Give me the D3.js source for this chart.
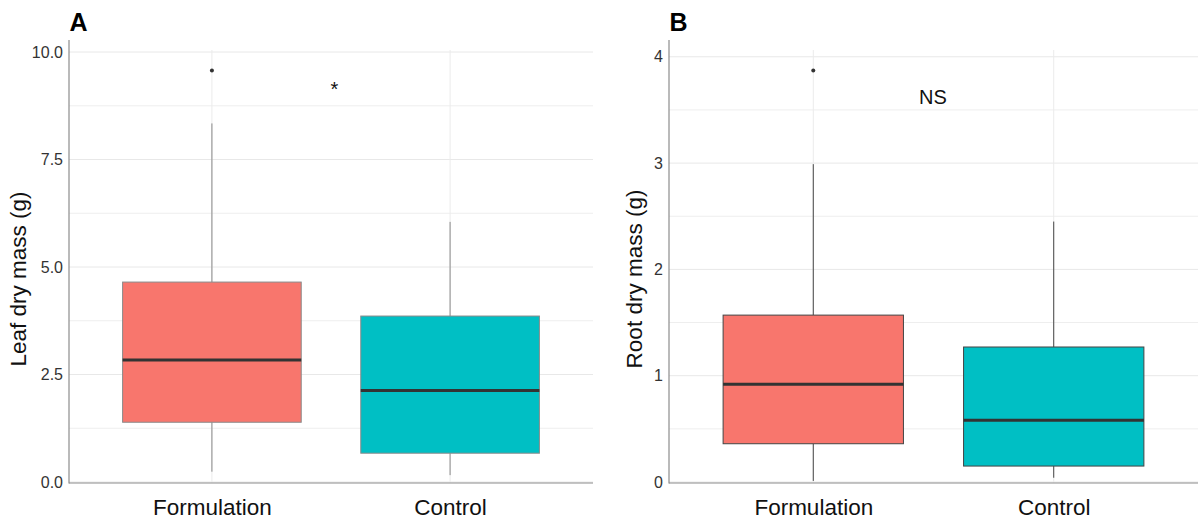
<!DOCTYPE html>
<html>
<head>
<meta charset="utf-8">
<script src="https://cdn.jsdelivr.net/npm/d3@7"></script>
<style>
  html, body { margin: 0; padding: 0; background: #fff; }
  svg { display: block; font-family: "Liberation Sans", Arial, sans-serif; }
</style>
</head>
<body>
<svg id="chart" width="1203" height="521"></svg>
<script>
// categories on the x axis
const categories = ["Formulation", "Control"];
const fillColors = ["#F8766D", "#00BFC4"];

// five-number summaries: [lower whisker, q1, median, q3, upper whisker]
const leafBoxes = [
    [0.24, 1.39, 2.84, 4.65, 8.34],
    [0.16, 0.67, 2.13, 3.86, 6.05]
];
const leafOutliers = [[9.57], []];
const leafTicks = [0, 2.5, 5, 7.5, 10];
const leafMinor = [1.25, 3.75, 6.25, 8.75];

const rootBoxes = [
    [0.01, 0.36, 0.92, 1.57, 2.99],
    [0.04, 0.15, 0.58, 1.27, 2.45]
];
const rootOutliers = [[3.87], []];
const rootTicks = [0, 1, 2, 3, 4];
const rootMinor = [0.5, 1.5, 2.5, 3.5];

const svg = d3.select('#chart');

function drawPanel(opt) {
    const g = svg.append('g');

    const x = d3.scalePoint()
        .domain(categories)
        .range([opt.left, opt.right])
        .padding(0.6);
    const y = d3.scaleLinear()
        .domain(opt.yDomain)
        .range([483, 40]);
    const boxW = x.step() * 0.75;

    // grid
    g.append('g').selectAll('line')
        .data(opt.minor)
        .join('line')
        .attr('x1', opt.left).attr('x2', opt.right)
        .attr('y1', d => y(d)).attr('y2', d => y(d))
        .style('stroke', '#eeeeee')
        .style('stroke-width', 1);
    g.append('g').selectAll('line')
        .data(opt.ticks)
        .join('line')
        .attr('x1', opt.left).attr('x2', opt.right)
        .attr('y1', d => y(d)).attr('y2', d => y(d))
        .style('stroke', '#e8e8e8')
        .style('stroke-width', 1);
    g.append('g').selectAll('line')
        .data(categories)
        .join('line')
        .attr('x1', d => x(d)).attr('x2', d => x(d))
        .attr('y1', 50).attr('y2', 483)
        .style('stroke', '#ebebeb')
        .style('stroke-width', 1);

    // y axis
    const yAxis = d3.axisLeft(y)
        .tickValues(opt.ticks)
        .tickFormat(opt.fmt)
        .tickSize(0)
        .tickPadding(6);
    const ya = g.append('g')
        .attr('transform', `translate(${opt.left},0)`)
        .call(yAxis);
    ya.select('.domain').remove();
    ya.selectAll('text')
        .style('font-size', '16px')
        .style('fill', '#333');

    // x axis
    const xAxis = d3.axisBottom(x).tickSize(0).tickPadding(16);
    const xa = g.append('g')
        .attr('transform', 'translate(0,483)')
        .call(xAxis);
    xa.select('.domain').remove();
    xa.selectAll('text')
        .style('font-size', '22.5px')
        .style('fill', '#111');

    // axis lines
    g.append('line')
        .attr('x1', opt.left).attr('x2', opt.left)
        .attr('y1', 40).attr('y2', 483.5)
        .style('stroke', '#8c8c8c').style('stroke-width', 1.2);
    g.append('line')
        .attr('x1', opt.left).attr('x2', opt.right)
        .attr('y1', 483).attr('y2', 483)
        .style('stroke', '#8c8c8c').style('stroke-width', 1.2);

    // boxes
    const box = g.append('g').selectAll('g')
        .data(opt.boxes)
        .join('g');

    box.append('line')
        .attr('x1', (d, i) => x(categories[i])).attr('x2', (d, i) => x(categories[i]))
        .attr('y1', d => y(d[3])).attr('y2', d => y(d[4]))
        .style('stroke', opt.lineColor).style('stroke-width', 1);
    box.append('line')
        .attr('x1', (d, i) => x(categories[i])).attr('x2', (d, i) => x(categories[i]))
        .attr('y1', d => y(d[1])).attr('y2', d => y(d[0]))
        .style('stroke', opt.lineColor).style('stroke-width', 1);
    box.append('rect')
        .attr('x', (d, i) => x(categories[i]) - boxW / 2)
        .attr('width', boxW)
        .attr('y', d => y(d[3]))
        .attr('height', d => y(d[1]) - y(d[3]))
        .style('fill', (d, i) => fillColors[i])
        .style('stroke', opt.lineColor)
        .style('stroke-width', 1);
    box.append('line')
        .attr('x1', (d, i) => x(categories[i]) - boxW / 2)
        .attr('x2', (d, i) => x(categories[i]) + boxW / 2)
        .attr('y1', d => y(d[2])).attr('y2', d => y(d[2]))
        .style('stroke', '#333').style('stroke-width', 3);

    // outliers
    opt.outliers.forEach((pts, i) => {
        g.append('g').selectAll('circle')
            .data(pts)
            .join('circle')
            .attr('cx', x(categories[i]))
            .attr('cy', d => y(d))
            .attr('r', 2)
            .style('fill', '#333');
    });

    // significance label between the groups
    g.append('text')
        .attr('x', (x(categories[0]) + x(categories[1])) / 2 + opt.sigDx)
        .attr('y', y(opt.sigY))
        .attr('text-anchor', 'middle')
        .attr('dominant-baseline', 'central')
        .style('font-size', opt.sigSize)
        .style('fill', '#111')
        .text(opt.sig);

    // y title
    g.append('text')
        .attr('transform', `translate(${opt.titleX},279) rotate(-90)`)
        .attr('text-anchor', 'middle')
        .attr('dominant-baseline', 'central')
        .style('font-size', '22.5px')
        .style('fill', '#111')
        .text(opt.yTitle);

    // panel letter
    g.append('text')
        .attr('x', opt.left + 0.5)
        .attr('y', 31)
        .style('font-size', '25px')
        .style('font-weight', 'bold')
        .style('fill', '#000')
        .text(opt.tag);
}

drawPanel({
    left: 69, right: 593,
    yDomain: [-0.023, 10.28],
    ticks: leafTicks, minor: leafMinor,
    fmt: d3.format('.1f'),
    boxes: leafBoxes, outliers: leafOutliers,
    lineColor: '#8a8a8a',
    sig: '*', sigY: 9.13, sigDx: 3.5, sigSize: '20px',
    yTitle: 'Leaf dry mass (g)', titleX: 18.5,
    tag: 'A'
});

drawPanel({
    left: 669, right: 1198,
    yDomain: [-0.0094, 4.158],
    ticks: rootTicks, minor: rootMinor,
    fmt: d3.format('d'),
    boxes: rootBoxes, outliers: rootOutliers,
    lineColor: '#444',
    sig: 'NS', sigY: 3.62, sigDx: -0.5, sigSize: '20px',
    yTitle: 'Root dry mass (g)', titleX: 634,
    tag: 'B'
});
</script>
</body>
</html>
